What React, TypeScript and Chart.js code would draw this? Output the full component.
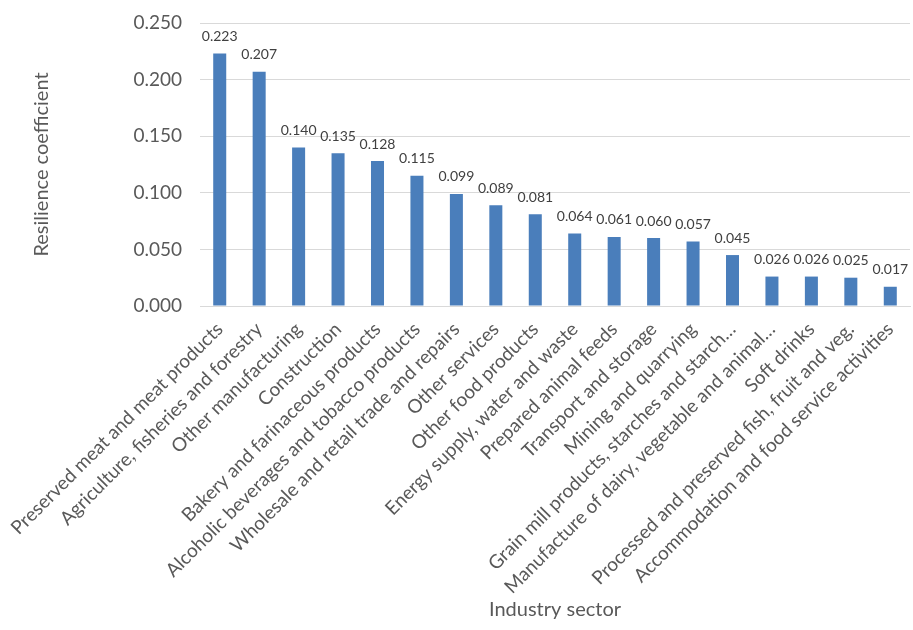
import React, { useEffect, useRef } from "react";
import { Chart, registerables } from "chart.js";

Chart.register(...registerables);

const categories: string[] = [
  "Preserved meat and meat products",
  "Agriculture, fisheries and forestry",
  "Other manufacturing",
  "Construction",
  "Bakery and farinaceous products",
  "Alcoholic beverages and tobacco products",
  "Wholesale and retail trade and repairs",
  "Other services",
  "Other food products",
  "Energy supply, water and waste",
  "Prepared animal feeds",
  "Transport and storage",
  "Mining and quarrying",
  "Grain mill products, starches and starch…",
  "Manufacture of dairy, vegetable and animal…",
  "Soft drinks",
  "Processed and preserved fish, fruit and veg.",
  "Accommodation and food service activities",
];

const resilience: number[] = [
  0.223, 0.207, 0.14, 0.135, 0.128, 0.115, 0.099, 0.089, 0.081, 0.064, 0.061,
  0.06, 0.057, 0.045, 0.026, 0.026, 0.025, 0.017,
];

const yTicks: number[] = [0, 0.05, 0.1, 0.15, 0.2, 0.25];

const FONT = "Lato, 'Open Sans', sans-serif";
const GRAY = "#595959";

const dataLabels = {
  id: "dataLabels",
  afterDatasetsDraw(chart: any) {
    const ctx = chart.ctx;
    const meta = chart.getDatasetMeta(0);
    ctx.save();
    ctx.font = `14px ${FONT}`;
    ctx.fillStyle = "#404040";
    ctx.textAlign = "center";
    ctx.textBaseline = "bottom";
    meta.data.forEach((bar: any, i: number) => {
      const v = chart.data.datasets[0].data[i] as number;
      ctx.fillText(v.toFixed(3), bar.x, bar.y - 10);
    });
    ctx.restore();
  },
};

export default function App() {
  const ref = useRef<HTMLCanvasElement | null>(null);
  useEffect(() => {
    if (!ref.current) return;
    const chart = new Chart(ref.current, {
      type: "bar",
      data: {
        labels: categories,
        datasets: [
          {
            data: resilience,
            backgroundColor: "#4a7ebb",
            barPercentage: 0.66,
            categoryPercentage: 0.5,
          },
        ],
      },
      options: {
        animation: false,
        responsive: false,
        maintainAspectRatio: false,
        layout: { padding: { left: 0, right: 3, top: 23, bottom: 8 } },
        plugins: { legend: { display: false }, tooltip: { enabled: false } },
        scales: {
          x: {
            grid: { display: false },
            border: { display: true, color: "#d9d9d9" },
            ticks: {
              color: GRAY,
              font: { family: FONT, size: 19 },
              maxRotation: 45,
              minRotation: 45,
              autoSkip: false,
              padding: 4,
            },
            title: {
              display: true,
              text: "Industry sector",
              color: GRAY,
              font: { family: FONT, size: 20 },
              padding: { top: 0, bottom: 0 },
            },
            afterFit(scale: any) {
              scale.height = 630 - 305 - 9;
            },
          },
          y: {
            min: 0,
            max: 0.25,
            afterBuildTicks(scale: any) {
              scale.ticks = yTicks.map((v) => ({ value: v }));
            },
            grid: { color: "#d9d9d9", drawTicks: true, tickLength: 18, tickColor: "rgba(0,0,0,0)" },
            border: { display: false },
            ticks: {
              color: GRAY,
              font: { family: FONT, size: 19 },
              padding: 0,
              callback: (v: any) => Number(v).toFixed(3),
            },
            title: {
              display: true,
              text: "Resilience coefficient",
              color: GRAY,
              font: { family: FONT, size: 20 },
              padding: { top: 30, bottom: 0 },
            },
            afterFit(scale: any) {
              scale.width = 200;
            },
          },
        },
      },
      plugins: [dataLabels],
    });
    return () => chart.destroy();
  }, []);
  return (
    <div style={{ position: "fixed", left: 0, top: 0, width: 913, height: 630, background: "#fff" }}>
      <canvas ref={ref} width={913} height={630} />
    </div>
  );
}
